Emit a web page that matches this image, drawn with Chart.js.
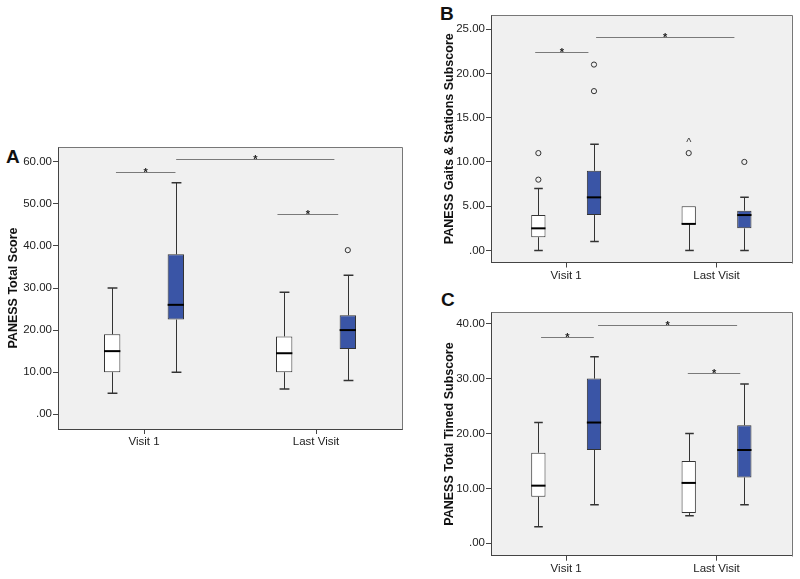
<!DOCTYPE html>
<html>
<head>
<meta charset="utf-8">
<script src="https://cdn.jsdelivr.net/npm/chart.js@4"></script>
<style>
  body { margin: 0; background: #fff; width: 800px; height: 579px; position: relative; overflow: hidden; }
  canvas { position: absolute; }
  .tag { position: absolute; font: bold 19px 'Liberation Sans', Arial, sans-serif; line-height: 19px; color: #111; }
</style>
</head>
<body>
<div class="tag" style="left:6px;top:147px">A</div>
<div class="tag" style="left:440px;top:4px">B</div>
<div class="tag" style="left:441px;top:290px">C</div>
<canvas id="chartA" width="410" height="350" style="left:0;top:120px"></canvas>
<canvas id="chartB" width="360" height="290" style="left:440px;top:0"></canvas>
<canvas id="chartC" width="360" height="289" style="left:440px;top:290px"></canvas>
<script>
const categories = ['Visit 1', 'Last Visit']

// [min, q1, median, q3, max] per visit
const totalCtrl = [[5, 10, 15, 19, 30], [6, 10, 14.5, 18.5, 29]]
const totalPt = [[10, 22.5, 26, 38, 55], [8, 15.5, 20, 23.5, 33]]
const totalCtrlOut = [[], []]
const totalPtOut = [[], [39]]
const totalTicks = [0, 10, 20, 30, 40, 50, 60]
// [y value, from, to] in category units
const totalSig = [[57.5, -0.163, 0.183], [60.6, 0.187, 1.107], [47.5, 0.776, 1.129]]

const gaitCtrl = [[0, 1.5, 2.5, 4, 7], [0, 3, 3, 5, 5]]
const gaitPt = [[1, 4, 6, 9, 12], [0, 2.5, 4, 4.5, 6]]
const gaitCtrlOut = [[8, 11], [11]]
const gaitPtOut = [[18, 21], [10]]
const gaitTicks = [0, 5, 10, 15, 20, 25]
const gaitSig = [[22.4, -0.206, 0.148], [24.1, 0.199, 1.119]]
const gaitMarks = [[1, -0.185, 12.4, '^']]

const timedCtrl = [[3, 8.5, 10.5, 16.5, 22], [5, 5.5, 11, 15, 20]]
const timedPt = [[7, 17, 22, 30, 34], [7, 12, 17, 21.5, 29]]
const timedCtrlOut = [[], []]
const timedPtOut = [[], []]
const timedTicks = [0, 10, 20, 30, 40]
const timedSig = [[37.6, -0.167, 0.184], [39.8, 0.212, 1.137], [31.0, 0.809, 1.158]]

const FONT = "'Liberation Sans', Arial, sans-serif"
const crisp = (v) => Math.round(v) + 0.5

const boxPlugin = {
    id: 'boxes',
    beforeDraw(chart) {
        const { ctx, chartArea: a } = chart
        ctx.save()
        ctx.fillStyle = '#f0f0f0'
        ctx.fillRect(a.left, a.top, a.right - a.left, a.bottom - a.top)
        ctx.restore()
    },
    beforeDatasetsDraw(chart, args, opts) {
        const { ctx } = chart
        const y = chart.scales.y
        ctx.save()
        ctx.strokeStyle = '#333'
        opts.stats.forEach((group, d) => {
            const meta = chart.getDatasetMeta(d)
            group.forEach((s, i) => {
                const bar = meta.data[i]
                const x = crisp(bar.x)
                const cap = bar.width * 0.3
                ctx.lineWidth = 1
                ctx.beginPath()
                ctx.moveTo(x, y.getPixelForValue(s[0]))
                ctx.lineTo(x, y.getPixelForValue(s[1]))
                ctx.moveTo(x, y.getPixelForValue(s[3]))
                ctx.lineTo(x, y.getPixelForValue(s[4]))
                ctx.stroke()
                ctx.lineWidth = 1.5
                ctx.beginPath()
                if (s[0] < s[1]) {
                    ctx.moveTo(x - cap, y.getPixelForValue(s[0]))
                    ctx.lineTo(x + cap, y.getPixelForValue(s[0]))
                }
                if (s[4] > s[3]) {
                    ctx.moveTo(x - cap, y.getPixelForValue(s[4]))
                    ctx.lineTo(x + cap, y.getPixelForValue(s[4]))
                }
                ctx.stroke()
            })
        })
        ctx.restore()
    },
    afterDatasetsDraw(chart, args, opts) {
        const { ctx, chartArea: a } = chart
        const x = chart.scales.x
        const y = chart.scales.y
        ctx.save()
        // medians
        opts.stats.forEach((group, d) => {
            const meta = chart.getDatasetMeta(d)
            group.forEach((s, i) => {
                const bar = meta.data[i]
                const my = y.getPixelForValue(s[2])
                ctx.strokeStyle = '#000'
                ctx.lineWidth = 2
                ctx.beginPath()
                ctx.moveTo(bar.x - bar.width / 2, my)
                ctx.lineTo(bar.x + bar.width / 2, my)
                ctx.stroke()
            })
        })
        // outliers
        opts.outliers.forEach((group, d) => {
            const meta = chart.getDatasetMeta(d)
            group.forEach((vals, i) => {
                vals.forEach((v) => {
                    ctx.strokeStyle = '#333'
                    ctx.lineWidth = 1
                    ctx.beginPath()
                    ctx.arc(meta.data[i].x, y.getPixelForValue(v), 2.6, 0, Math.PI * 2)
                    ctx.stroke()
                })
            })
        })
        // extra markers
        ctx.fillStyle = '#333'
        ctx.font = '11px ' + FONT
        ctx.textAlign = 'center'
        ctx.textBaseline = 'middle'
        ;(opts.marks || []).forEach(([i, off, v, t]) => {
            ctx.fillText(t, x.getPixelForValue(i + off), y.getPixelForValue(v) + 2)
        })
        // significance lines
        opts.sig.forEach(([v, from, to]) => {
            const ly = crisp(y.getPixelForValue(v))
            const x1 = x.getPixelForValue(from)
            const x2 = x.getPixelForValue(to)
            ctx.strokeStyle = '#7a7a7a'
            ctx.lineWidth = 1
            ctx.beginPath()
            ctx.moveTo(x1, ly)
            ctx.lineTo(x2, ly)
            ctx.stroke()
            ctx.fillStyle = '#222'
            ctx.font = 'bold 11px ' + FONT
            ctx.textBaseline = 'alphabetic'
            ctx.fillText('*', (x1 + x2) / 2, ly + 3)
        })
        // frame top/right
        ctx.strokeStyle = '#777'
        ctx.lineWidth = 1
        ctx.beginPath()
        ctx.moveTo(crisp(a.left), crisp(a.top))
        ctx.lineTo(crisp(a.right), crisp(a.top))
        ctx.lineTo(crisp(a.right), crisp(a.bottom))
        ctx.stroke()
        ctx.restore()
    }
}

const makePanel = (id, p) => {
    const datasets = [
        { label: 'Group 1', data: p.ctrl.map((s) => [s[1], s[3]]), backgroundColor: '#ffffff' },
        { label: 'Group 2', data: p.pt.map((s) => [s[1], s[3]]), backgroundColor: '#3a55a6' }
    ]
    const config = {
        type: 'bar',
        data: { labels: categories, datasets },
        options: {
            responsive: false,
            animation: false,
            events: [],
            layout: { padding: { top: p.padTop, right: p.padRight, left: 0, bottom: 0 } },
            datasets: {
                bar: {
                    categoryPercentage: 0.74,
                    barPercentage: 0.257,
                    borderColor: '#333',
                    borderWidth: 1,
                    borderSkipped: false,
                    grouped: true
                }
            },
            plugins: {
                legend: { display: false },
                tooltip: { enabled: false },
                boxes: {
                    stats: [p.ctrl, p.pt],
                    outliers: [p.ctrlOut, p.ptOut],
                    sig: p.sig,
                    marks: p.marks
                }
            },
            scales: {
                x: {
                    grid: { drawOnChartArea: false, offset: false, tickLength: 5, tickColor: '#444' },
                    border: { color: '#444' },
                    ticks: { color: '#222', font: { family: FONT, size: 11.5 }, padding: 1 },
                    afterFit: (s) => { s.height = p.xHeight }
                },
                y: {
                    min: p.min,
                    max: p.max,
                    grid: { drawOnChartArea: false, tickLength: 5, tickColor: '#444' },
                    border: { color: '#444' },
                    ticks: {
                        color: '#222',
                        font: { family: FONT, size: 11.5 },
                        padding: 1,
                        callback: (v) => v === 0 ? '.00' : v.toFixed(2)
                    },
                    afterBuildTicks: (s) => { s.ticks = p.ticks.map((v) => ({ value: v })) },
                    title: {
                        display: true,
                        text: p.title,
                        color: '#111',
                        font: { family: FONT, size: 12.5, weight: 'bold' },
                        padding: { top: p.titlePad, bottom: 0 }
                    },
                    afterFit: (s) => { s.width = p.yWidth }
                }
            }
        },
        plugins: [boxPlugin]
    }
    new Chart(document.querySelector(id), config)
}

makePanel('#chartA', {
    ctrl: totalCtrl, pt: totalPt, ctrlOut: totalCtrlOut, ptOut: totalPtOut,
    ticks: totalTicks, sig: totalSig, min: -3.5, max: 63.5,
    title: 'PANESS Total Score', titlePad: 6,
    yWidth: 58, xHeight: 41, padTop: 27, padRight: 8
})

makePanel('#chartB', {
    ctrl: gaitCtrl, pt: gaitPt, ctrlOut: gaitCtrlOut, ptOut: gaitPtOut,
    ticks: gaitTicks, sig: gaitSig, marks: gaitMarks, min: -1.36, max: 26.6,
    title: 'PANESS Gaits & Stations Subscore', titlePad: 2.5,
    yWidth: 51, xHeight: 27.5, padTop: 15, padRight: 8.3
})

makePanel('#chartC', {
    ctrl: timedCtrl, pt: timedPt, ctrlOut: timedCtrlOut, ptOut: timedPtOut,
    ticks: timedTicks, sig: timedSig, min: -2.26, max: 42.08,
    title: 'PANESS Total Timed Subscore', titlePad: 2.5,
    yWidth: 51, xHeight: 23.3, padTop: 22.3, padRight: 8.3
})
</script>
</body>
</html>
